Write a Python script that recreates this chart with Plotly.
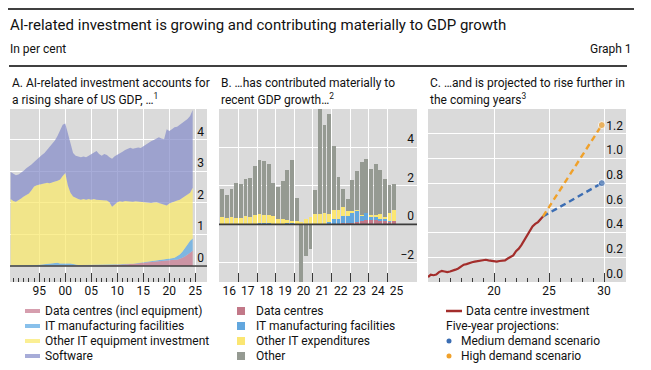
import plotly.graph_objects as go

# The page places the figure 8px in from the top-left corner, so the figure is
# 643x362 and all layout positions are offset.
OFF = 8
W, H = 643, 362
def px(x): return (x - OFF) / W
def py(y): return 1 - (y - OFF) / H

FONT = "Roboto, Lato, sans-serif"
TXT = "#111111"
BG = "#dadada"
TICKC = "#3a3a3a"

# ---------------- Panel A: share of US GDP (stacked levels, per cent) ----------------
a_periods = [1989.5 + 0.5 * i for i in range(71)]
a_software_top = [2.98,
    2.92, 2.88, 2.90, 2.95, 3.02, 3.10, 3.15, 3.22, 3.30, 3.38,
    3.45, 3.52, 3.58, 3.68, 3.75, 3.85, 3.98, 4.12, 4.30, 4.48,
    4.52, 4.20, 3.82, 3.58, 3.50, 3.47, 3.45, 3.47, 3.45, 3.50,
    3.55, 3.60, 3.65, 3.55, 3.50, 3.55, 3.52, 3.45, 3.40, 3.48,
    3.52, 3.58, 3.62, 3.68, 3.72, 3.75, 3.72, 3.74, 3.76, 3.74,
    3.80, 3.86, 3.92, 3.96, 4.00, 4.05, 4.08, 4.04, 4.02, 4.34,
    4.28, 4.34, 4.40, 4.42, 4.48, 4.55, 4.60, 4.66, 4.76, 4.95]
a_other_it_top = [2.12,
    2.06, 2.04, 2.08, 2.14, 2.20, 2.25, 2.30, 2.40, 2.52, 2.56,
    2.58, 2.60, 2.62, 2.64, 2.62, 2.66, 2.68, 2.70, 2.74, 2.85,
    2.95, 2.55, 2.32, 2.20, 2.15, 2.12, 2.10, 2.12, 2.10, 2.12,
    2.10, 2.12, 2.10, 2.10, 2.08, 2.10, 2.08, 2.02, 1.88, 1.95,
    2.02, 2.05, 2.04, 2.06, 2.05, 2.06, 2.04, 2.05, 2.04, 2.03,
    2.02, 2.03, 2.02, 2.00, 2.01, 2.02, 2.00, 1.98, 1.96, 1.92,
    1.98, 2.02, 2.05, 2.08, 2.10, 2.15, 2.20, 2.25, 2.32, 2.48]
a_it_mfg_top = [0.01,
    0.01, 0.01, 0.01, 0.01, 0.01, 0.02, 0.02, 0.02, 0.03, 0.03,
    0.04, 0.05, 0.06, 0.07, 0.08, 0.10, 0.11, 0.10, 0.08, 0.08,
    0.09, 0.10, 0.08, 0.06, 0.04, 0.03, 0.03, 0.03, 0.03, 0.03,
    0.03, 0.03, 0.03, 0.04, 0.04, 0.04, 0.04, 0.04, 0.04, 0.04,
    0.04, 0.05, 0.06, 0.07, 0.07, 0.07, 0.07, 0.08, 0.09, 0.10,
    0.12, 0.13, 0.14, 0.15, 0.16, 0.17, 0.18, 0.19, 0.20, 0.22,
    0.22, 0.24, 0.26, 0.30, 0.36, 0.45, 0.55, 0.68, 0.80, 0.87]
a_data_centres_top = [0.00,
    0.00, 0.00, 0.00, 0.00, 0.00, 0.00, 0.00, 0.00, 0.00, 0.00,
    0.00, 0.00, 0.00, 0.00, 0.00, 0.00, 0.00, 0.00, 0.00, 0.00,
    0.01, 0.01, 0.01, 0.01, 0.01, 0.01, 0.01, 0.01, 0.01, 0.01,
    0.02, 0.02, 0.02, 0.02, 0.02, 0.02, 0.02, 0.02, 0.03, 0.03,
    0.03, 0.04, 0.04, 0.05, 0.05, 0.06, 0.06, 0.07, 0.08, 0.09,
    0.10, 0.11, 0.12, 0.13, 0.14, 0.15, 0.16, 0.17, 0.18, 0.19,
    0.19, 0.19, 0.20, 0.20, 0.22, 0.26, 0.30, 0.35, 0.42, 0.48]
a_names = ["Data centres (incl equipment)", "IT manufacturing facilities",
           "Other IT equipment investment", "Software"]
a_colors = ["rgba(198,121,143,0.72)", "rgba(90,167,227,0.72)",
            "rgba(250,233,107,0.72)", "rgba(133,140,201,0.72)"]
a_tick_years = [1995, 2000, 2005, 2010, 2015, 2020, 2025]
a_tick_text = ["95", "00", "05", "10", "15", "20", "25"]
a_minor_years = [y for y in range(1990, 2025) if y % 5 != 0 or y == 1990]

# ---------------- Panel B: contributions to GDP growth (pp) ----------------
b_quarters = [2016.125 + 0.25 * i for i in range(38)]
b_data_centres = [0.02, 0.02, 0.02, 0.02, 0.02, 0.02, 0.02, 0.02,
                  0.03, 0.03, 0.03, 0.02, 0.02, 0.02, 0.02, 0.02,
                  0.02, 0.01, 0.01, 0.01, 0.01, 0.02, 0.02, 0.02,
                  0.03, 0.04, 0.05, 0.06, 0.08, 0.10, 0.15, 0.20,
                  0.20, 0.24, 0.22, 0.20, 0.15, 0.17]
b_it_mfg = [0.01, 0.01, 0.01, 0.01, 0.01, 0.01, 0.01, 0.02,
            0.04, 0.04, 0.04, 0.02, 0.01, 0.01, 0.03, 0.03,
            0.01, 0.01, 0.01, 0.01, 0.01, 0.01, 0.01, 0.10,
            0.23, 0.26, 0.37, 0.36, 0.56, 0.61, 0.32, 0.39,
            0.17, 0.13, 0.04, 0.10, 0.01, 0.00]
b_other_it = [0.34, 0.28, 0.34, 0.28, 0.28, 0.39, 0.35, 0.43,
              0.45, 0.40, 0.40, 0.38, 0.23, 0.23, 0.16, 0.11,
              0.13, 0.10, 0.24, 0.36, 0.50, 0.53, 0.58, 0.44,
              0.47, 0.43, 0.47, 0.29, 0.04, 0.02, 0.02, 0.02,
              0.13, 0.13, 0.28, 0.08, 0.44, 0.56]
b_other = [1.46, 1.20, 1.46, 1.86, 1.78, 1.93, 2.02, 2.56,
           2.82, 2.82, 2.66, 1.72, 1.67, 1.98, 2.61, 3.18,
           1.20, -8.50, -1.65, -1.30, 1.25, 6.44, 4.56, 5.18,
           3.34, 1.74, 0.97, 0.59, 1.62, 2.04, 2.73, 2.78,
           2.37, 2.63, 2.31, 2.00, 1.43, 1.39]
b_names = ["Data centres", "IT manufacturing facilities", "Other IT expenditures", "Other"]
b_colors = ["#c27888", "#62a7de", "#fbe672", "#959a92"]
b_label_pos = [2016.5 + i for i in range(10)]
b_label_text = ["16", "17", "18", "19", "20", "21", "22", "23", "24", "25"]
b_year_marks = list(range(2016, 2026))

# ---------------- Panel C: data centre investment and projections ----------------
c_years = [2014.0, 2014.25, 2014.5, 2014.75, 2015.0, 2015.25, 2015.5, 2015.75,
           2016.0, 2016.25, 2016.5, 2016.75, 2017.0, 2017.25, 2017.5, 2017.75,
           2018.0, 2018.25, 2018.5, 2018.75, 2019.0, 2019.25, 2019.5, 2019.75,
           2020.0, 2020.25, 2020.5, 2020.75, 2021.0, 2021.25, 2021.5, 2021.75,
           2022.0, 2022.25, 2022.5, 2022.75, 2023.0, 2023.25, 2023.5, 2023.75,
           2024.0, 2024.25, 2024.45]
c_invest = [0.04, 0.06, 0.055, 0.06, 0.08, 0.09, 0.085, 0.08,
            0.085, 0.09, 0.10, 0.11, 0.125, 0.14, 0.145, 0.155,
            0.16, 0.165, 0.17, 0.175, 0.18, 0.18, 0.175, 0.17,
            0.168, 0.165, 0.17, 0.172, 0.175, 0.19, 0.205, 0.215,
            0.25, 0.27, 0.30, 0.34, 0.38, 0.42, 0.45, 0.47,
            0.485, 0.51, 0.53]
c_proj_years = [2024.45, 2029.8]
c_medium = [0.53, 0.80]
c_high = [0.53, 1.27]
c_tick_years = [2020, 2025, 2030]
c_tick_text = ["20", "25", "30"]
c_minor_years = [y for y in range(2015, 2030) if y % 5 != 0 or y == 2015]
RED, BLUE, ORANGE = "#a32d2b", "#3b6db3", "#f0a12b"

fig = go.Figure()

# Panel A areas
for top, name, col, f in zip([a_data_centres_top, a_it_mfg_top, a_other_it_top, a_software_top],
                             a_names, a_colors, ["tozeroy", "tonexty", "tonexty", "tonexty"]):
    fig.add_trace(go.Scatter(x=a_periods, y=top, name=name, mode="lines", fill=f,
                             fillcolor=col, line=dict(width=0, color=col),
                             xaxis="x", yaxis="y", showlegend=False, hoverinfo="skip"))

# Panel B bars
for vals, name, col in zip([b_data_centres, b_it_mfg, b_other_it, b_other], b_names, b_colors):
    fig.add_trace(go.Bar(x=b_quarters, y=vals, name=name, width=0.205,
                         marker=dict(color=col, line=dict(width=0)),
                         xaxis="x2", yaxis="y2", showlegend=False))

# Panel C lines
fig.add_trace(go.Scatter(x=c_years, y=c_invest, mode="lines", name="Data centre investment",
                         line=dict(color=RED, width=2.2), xaxis="x3", yaxis="y3", showlegend=False))
fig.add_trace(go.Scatter(x=c_proj_years, y=c_medium, mode="lines+markers", name="Medium demand scenario",
                         line=dict(color=BLUE, width=2.4, dash="6px,4px"),
                         marker=dict(size=[0, 7], color=BLUE), xaxis="x3", yaxis="y3", showlegend=False))
fig.add_trace(go.Scatter(x=c_proj_years, y=c_high, mode="lines+markers", name="High demand scenario",
                         line=dict(color=ORANGE, width=2.4, dash="6px,4px"),
                         marker=dict(size=[0, 7], color=ORANGE), xaxis="x3", yaxis="y3", showlegend=False))

tickfont = dict(family=FONT, size=12, color=TXT)
def xax(dom, rng, tv, tt, minor_vals, major_len, minor_len, major_grid, minor_grid, anchor):
    return dict(domain=dom, range=rng, tickmode="array", tickvals=tv, ticktext=tt,
                ticks="inside", ticklen=major_len, tickwidth=1.4, tickcolor=TICKC,
                showgrid=major_grid, gridcolor="white", gridwidth=1.3,
                zeroline=False, showline=False, tickfont=tickfont, anchor=anchor,
                fixedrange=True,
                minor=dict(tickmode="array", tickvals=minor_vals, ticks="inside",
                           ticklen=minor_len, tickwidth=1.4, tickcolor=TICKC,
                           showgrid=minor_grid, gridcolor="white", gridwidth=1.3))

def yax(dom, rng, tv, anchor, fmt=None):
    d = dict(domain=dom, range=rng, tickmode="array", tickvals=tv, side="right",
             ticklabelposition="inside top", ticks="", showgrid=True, gridcolor="white",
             gridwidth=1.3, zeroline=False, showline=False, tickfont=tickfont,
             anchor=anchor, fixedrange=True)
    if fmt:
        d["tickformat"] = fmt
    return d

ydom = [py(282), py(109)]
fig.update_layout(
    width=W, height=H, margin=dict(l=0, r=0, t=0, b=0),
    paper_bgcolor="white", plot_bgcolor=BG, barmode="relative", bargap=0,
    font=dict(family=FONT, size=12, color=TXT),
    showlegend=False,
    xaxis=xax([px(10), px(207)], [1989.37, 2027.25], a_tick_years, a_tick_text,
              a_minor_years, 9, 4, True, False, "y"),
    yaxis=yax(ydom, [-0.51, 4.98], [0, 1, 2, 3, 4], "x"),
    xaxis2=xax([px(219), px(417)], [2015.95, 2026.6], b_label_pos, b_label_text,
               b_year_marks, 0, 9, False, True, "y2"),
    yaxis2=yax(ydom, [-3.0, 6.0], [-2, 0, 2, 4], "x2"),
    xaxis3=xax([px(428), px(626)], [2014.0, 2032.0], c_tick_years, c_tick_text,
               c_minor_years, 9, 4, True, False, "y3"),
    yaxis3=yax(ydom, [0, 1.4], [0, 0.2, 0.4, 0.6, 0.8, 1.0, 1.2], "x3", ".1f"),
)

shapes = []
# horizontal rules above the title and under the subtitle line
shapes.append(dict(type="line", xref="paper", yref="paper", x0=px(8), x1=px(634), y0=py(9), y1=py(9),
                   layer="above", line=dict(color="black", width=1.5)))
shapes.append(dict(type="line", xref="paper", yref="paper", x0=px(9), x1=px(627), y0=py(66), y1=py(66),
                   layer="above", line=dict(color="black", width=1.5)))
# zero lines above traces
for xr, yr in [("x domain", "y"), ("x2 domain", "y2")]:
    shapes.append(dict(type="line", xref=xr, yref=yr, x0=0, x1=1, y0=0, y1=0, layer="above",
                       line=dict(color="#3c3c3c", width=1.6)))

ann = []
def text(x, y, s, size=12, anchor="left"):
    ann.append(dict(x=px(x), y=py(y), xref="paper", yref="paper", text=s, showarrow=False,
                    xanchor=anchor, yanchor="middle", font=dict(family=FONT, size=size, color=TXT)))

text(8, 25, "AI-related investment is growing and contributing materially to GDP growth", 15)
text(8, 49, "In per cent", 12)
text(634, 49, "Graph 1", 12, "right")
text(10, 83, "A. AI-related investment accounts for")
text(10, 99, "a rising share of US GDP, …<sup>1</sup>")
text(219, 83, "B. …has contributed materially to")
text(219, 99, "recent GDP growth…<sup>2</sup>")
text(428, 83, "C. …and is projected to rise further in")
text(428, 99, "the coming years<sup>3</sup>")

rows = [311, 326, 341, 356]
# Legend A
for r, name, col in zip(rows, a_names, a_colors):
    shapes.append(dict(type="rect", xref="paper", yref="paper", x0=px(25), x1=px(40),
                       y0=py(r + 2), y1=py(r - 2), fillcolor=col, line=dict(width=0)))
    text(43, r, name)
# Legend B
for r, name, col in zip(rows, b_names, b_colors):
    shapes.append(dict(type="rect", xref="paper", yref="paper", x0=px(237), x1=px(245),
                       y0=py(r + 4), y1=py(r - 4), fillcolor=col, line=dict(width=0)))
    text(254, r, name)
# Legend C
shapes.append(dict(type="line", xref="paper", yref="paper", x0=px(446), x1=px(462),
                   y0=py(rows[0]), y1=py(rows[0]), line=dict(color=RED, width=2.5)))
text(464, rows[0], "Data centre investment")
text(444, rows[1], "Five-year projections:")
for r, name, col in zip(rows[2:], ["Medium demand scenario", "High demand scenario"], [BLUE, ORANGE]):
    shapes.append(dict(type="circle", xref="paper", yref="paper", x0=px(446.5), x1=px(451.5),
                       y0=py(r + 2.5), y1=py(r - 2.5), fillcolor=col, line=dict(width=0)))
    text(459, r, name)

fig.update_layout(shapes=shapes, annotations=ann)
fig.write_html("out.html")
